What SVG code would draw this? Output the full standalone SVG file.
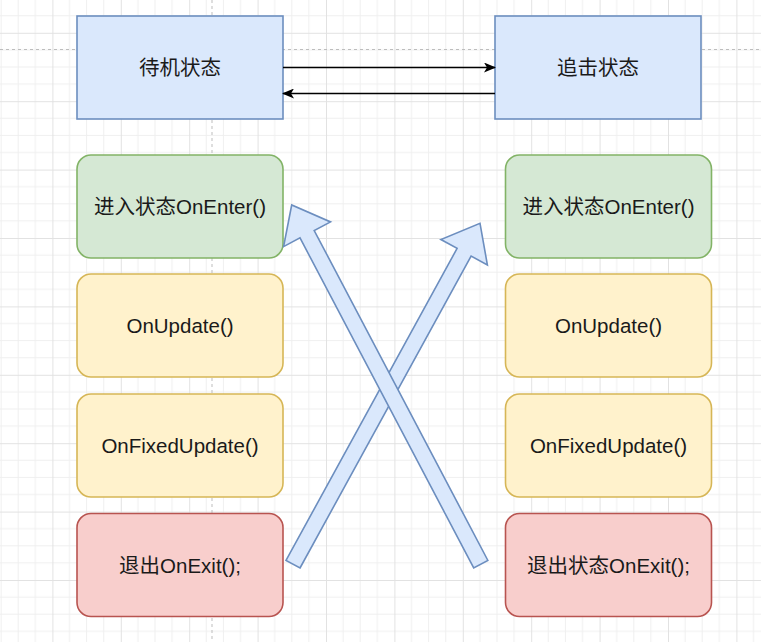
<svg xmlns="http://www.w3.org/2000/svg" width="761" height="642" viewBox="0 0 761 642">
<style>
.t{font-family:"Liberation Sans","Noto Sans CJK SC",sans-serif;font-size:20.5px;fill:#1a1a1a;text-anchor:middle;dominant-baseline:central}
.blue{fill:#dae8fc;stroke:#6c8ebf;stroke-width:1.6}
.green{fill:#d5e8d4;stroke:#82b366;stroke-width:1.6}
.yellow{fill:#fff2cc;stroke:#d6b656;stroke-width:1.6}
.red{fill:#f8cecc;stroke:#b85450;stroke-width:1.6}
.flex{fill:#dae8fc;stroke:#6c8ebf;stroke-width:1.6;stroke-linejoin:miter}
.edge{fill:none;stroke:#000;stroke-width:1.5}
</style>
<defs>
<pattern id="grid" patternUnits="userSpaceOnUse" x="52.4" y="32.8" width="68.4" height="68.4">
<path d="M17.1 0V68.4M34.2 0V68.4M51.3 0V68.4M0 17.1H68.4M0 34.2H68.4M0 51.3H68.4" stroke="#efefef" stroke-width="1" fill="none"/>
<path d="M0.5 0V68.4M0 0.5H68.4" stroke="#e2e2e2" stroke-width="1" fill="none"/>
</pattern>
<marker id="ah" viewBox="0 0 12 10" refX="11" refY="5" markerWidth="12" markerHeight="10" markerUnits="userSpaceOnUse" orient="auto">
<path d="M0 0L12 5L0 10L3 5Z" fill="#000"/>
</marker>
</defs>
<rect width="761" height="642" fill="#fff"/>
<rect width="761" height="642" fill="url(#grid)"/>
<g id="pagebreaks" stroke="#bdbdbd" stroke-width="1" stroke-dasharray="3 3">
<line x1="0" y1="49.5" x2="761" y2="49.5"/>
<line x1="212" y1="0" x2="212" y2="642"/>
</g>
<g id="idle"><rect class="blue" x="77" y="16" width="206" height="103"/><text class="t" x="180" y="67.5">待机状态</text></g>
<g id="chase"><rect class="blue" x="495" y="16" width="206" height="103"/><text class="t" x="598" y="67.5">追击状态</text></g>
<g id="l-enter"><rect class="green" x="77" y="155" width="206" height="103" rx="14"/><text class="t" x="180" y="206.5">进入状态OnEnter()</text></g>
<g id="l-update"><rect class="yellow" x="77" y="274" width="206" height="103" rx="14"/><text class="t" x="180" y="325.5">OnUpdate()</text></g>
<g id="l-fixed"><rect class="yellow" x="77" y="394" width="206" height="103" rx="14"/><text class="t" x="180" y="445.5">OnFixedUpdate()</text></g>
<g id="l-exit"><rect class="red" x="77" y="513.5" width="206" height="103" rx="14"/><text class="t" x="180" y="565">退出OnExit();</text></g>
<g id="r-enter"><rect class="green" x="505.5" y="155" width="206" height="103" rx="14"/><text class="t" x="608.5" y="206.5">进入状态OnEnter()</text></g>
<g id="r-update"><rect class="yellow" x="505.5" y="274" width="206" height="103" rx="14"/><text class="t" x="608.5" y="325.5">OnUpdate()</text></g>
<g id="r-fixed"><rect class="yellow" x="505.5" y="394" width="206" height="103" rx="14"/><text class="t" x="608.5" y="445.5">OnFixedUpdate()</text></g>
<g id="r-exit"><rect class="red" x="505.5" y="513.5" width="206" height="103" rx="14"/><text class="t" x="608.5" y="565">退出状态OnExit();</text></g>
<g id="connectors">
<line class="edge" x1="283" y1="67.5" x2="495" y2="67.5" marker-end="url(#ah)"/>
<line class="edge" x1="495" y1="93.5" x2="283" y2="93.5" marker-end="url(#ah)"/>
<polygon class="flex" points="300,568 471.1,256.1 487.4,265 480,223.3 440.9,239.5 457.1,248.4 286,560.4"/>
<polygon class="flex" points="487.9,560.5 314.2,230.5 330.5,221.9 291.7,205 283.6,246.6 300,237.9 473.7,567.9"/>
</g>
</svg>
